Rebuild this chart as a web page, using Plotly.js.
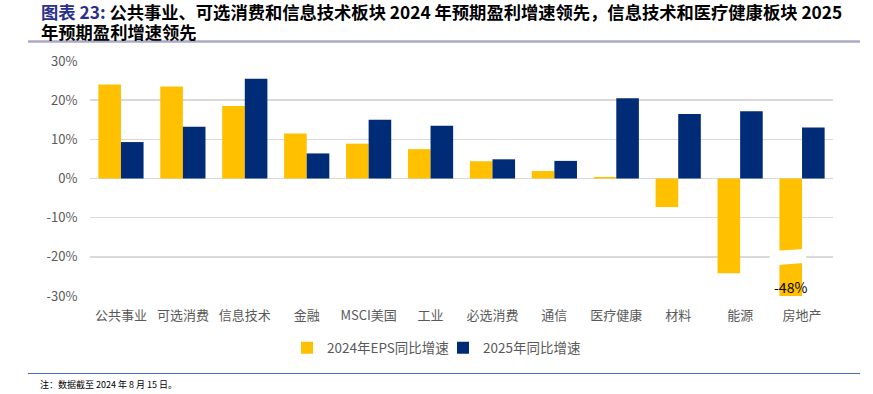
<!DOCTYPE html>
<html>
<head>
<meta charset="utf-8">
<script src="https://cdn.plot.ly/plotly-3.0.1.min.js"></script>
<style>
  html, body { margin: 0; padding: 0; background: #fff; }
  #chart { width: 873px; height: 394px; }
</style>
</head>
<body>
<div id="chart"></div>
<script>
// ---- data ----
const categories = ['公共事业', '可选消费', '信息技术', '金融', 'MSCI美国', '工业', '必选消费', '通信', '医疗健康', '材料', '能源', '房地产'];
const eps2024 = [24.0, 23.5, 18.5, 11.5, 8.9, 7.5, 4.4, 1.9, 0.4, -7.3, -24.2, -48.0];
const growth2025 = [9.3, 13.2, 25.5, 6.4, 15.0, 13.5, 4.9, 4.5, 20.5, 16.5, 17.2, 13.0];
const seriesNames = ['2024年EPS同比增速', '2025年同比增速'];
const yTickVals = [-30, -20, -10, 0, 10, 20, 30];
const yTickText = ['-30%', '-20%', '-10%', '0%', '10%', '20%', '30%'];
const titleLead = '图表 23:';
const titleLine1 = ' 公共事业、可选消费和信息技术板块 2024 年预期盈利增速领先，信息技术和医疗健康板块 2025';
const titleLine2 = '年预期盈利增速领先';
const noteText = '注：数据截至 2024 年 8 月 15 日。';

// ---- layout constants ----
const W = 873, H = 394;
const M = { l: 90, r: 40, t: 61, b: 98 };
const pw = W - M.l - M.r, ph = H - M.t - M.b;
const px2x = px => (px - M.l) / pw;
const py2y = py => (H - M.b - py) / ph;
const bargap = 0.27;
const yMin = -30, yMax = 30;

const YELLOW = '#FFC000', NAVY = '#002B76', GRAY = '#595959';

const traces = [
  { type: 'bar', name: seriesNames[0], x: categories, y: eps2024, marker: { color: YELLOW }, cliponaxis: true, hoverinfo: 'none' },
  { type: 'bar', name: seriesNames[1], x: categories, y: growth2025, marker: { color: NAVY }, cliponaxis: true, hoverinfo: 'none' }
];

// clipped bar: the real value shown as a label, plus an axis-break mark
const lastIdx = categories.length - 1;
const barW = (1 - bargap) / 2;
const clipX = lastIdx - barW / 2;
const bx0 = clipX - 0.34, bx1 = clipX + 0.25;
const breakPath = `M ${bx0},-18.6 C ${bx0 + 0.2},-18.2 ${bx1 - 0.2},-18.4 ${bx1},-17.9 L ${bx1},-21.5 C ${bx1 - 0.2},-21.8 ${bx0 + 0.2},-21.9 ${bx0},-22.3 Z`;

const titleFont = { family: '"Noto Sans CJK SC", sans-serif', size: 17.3, color: '#000', weight: 'bold' };

const layout = {
  width: W, height: H,
  margin: M,
  paper_bgcolor: '#fff', plot_bgcolor: '#fff',
  font: { family: '"Noto Sans CJK SC", "Noto Sans", sans-serif', color: GRAY, size: 13 },
  barmode: 'group', bargap: bargap, bargroupgap: 0,
  showlegend: true,
  legend: {
    orientation: 'h', x: px2x(287), xanchor: 'left', y: py2y(348), yanchor: 'middle',
    font: { size: 13.5, color: GRAY }, itemwidth: 30, traceorder: 'normal',
    entrywidth: 111, entrywidthmode: 'pixels'
  },
  xaxis: {
    type: 'category', showgrid: false, zeroline: false, showline: false,
    ticks: 'outside', ticklen: 7, tickcolor: 'rgba(0,0,0,0)',
    tickfont: { size: 13, color: GRAY }, tickangle: 0, automargin: false
  },
  yaxis: {
    range: [yMin, yMax], tickvals: yTickVals, ticktext: yTickText,
    showgrid: true, gridcolor: '#D9D9D9', gridwidth: 1.5,
    zeroline: true, zerolinecolor: '#D9D9D9', zerolinewidth: 1.5,
    showline: false, ticks: 'outside', ticklen: 9, tickcolor: 'rgba(0,0,0,0)',
    tickfont: { size: 13, color: GRAY }, automargin: false
  },
  shapes: [
    { type: 'path', xref: 'x', yref: 'y', path: breakPath, fillcolor: '#fff', line: { width: 0 }, layer: 'above' },
    { type: 'line', xref: 'paper', yref: 'paper', x0: px2x(28), x1: px2x(860), y0: py2y(41.5), y1: py2y(41.5), line: { color: '#A9A9C8', width: 2.5 } },
    { type: 'line', xref: 'paper', yref: 'paper', x0: px2x(28), x1: px2x(860), y0: py2y(373.5), y1: py2y(373.5), line: { color: '#4A6DB5', width: 1.2 } }
  ],
  annotations: [
    { xref: 'paper', yref: 'paper', x: px2x(39), y: py2y(11.5), xanchor: 'left', yanchor: 'middle', showarrow: false,
      text: '<span style="color:#2B2F8C">' + titleLead + '</span>' + titleLine1, font: titleFont },
    { xref: 'paper', yref: 'paper', x: px2x(39), y: py2y(31), xanchor: 'left', yanchor: 'middle', showarrow: false,
      text: titleLine2, font: titleFont },
    { xref: 'x', yref: 'y', x: clipX, y: -27.8, text: eps2024[lastIdx].toFixed(0) + '%', showarrow: false,
      font: { size: 14, color: '#000' }, xanchor: 'center', yanchor: 'middle' },
    { xref: 'paper', yref: 'paper', x: px2x(38), y: py2y(384), text: noteText, showarrow: false,
      xanchor: 'left', yanchor: 'middle', font: { size: 9, color: '#000' } }
  ]
};

Plotly.newPlot('chart', traces, layout, { staticPlot: true, displayModeBar: false });
</script>
</body>
</html>
